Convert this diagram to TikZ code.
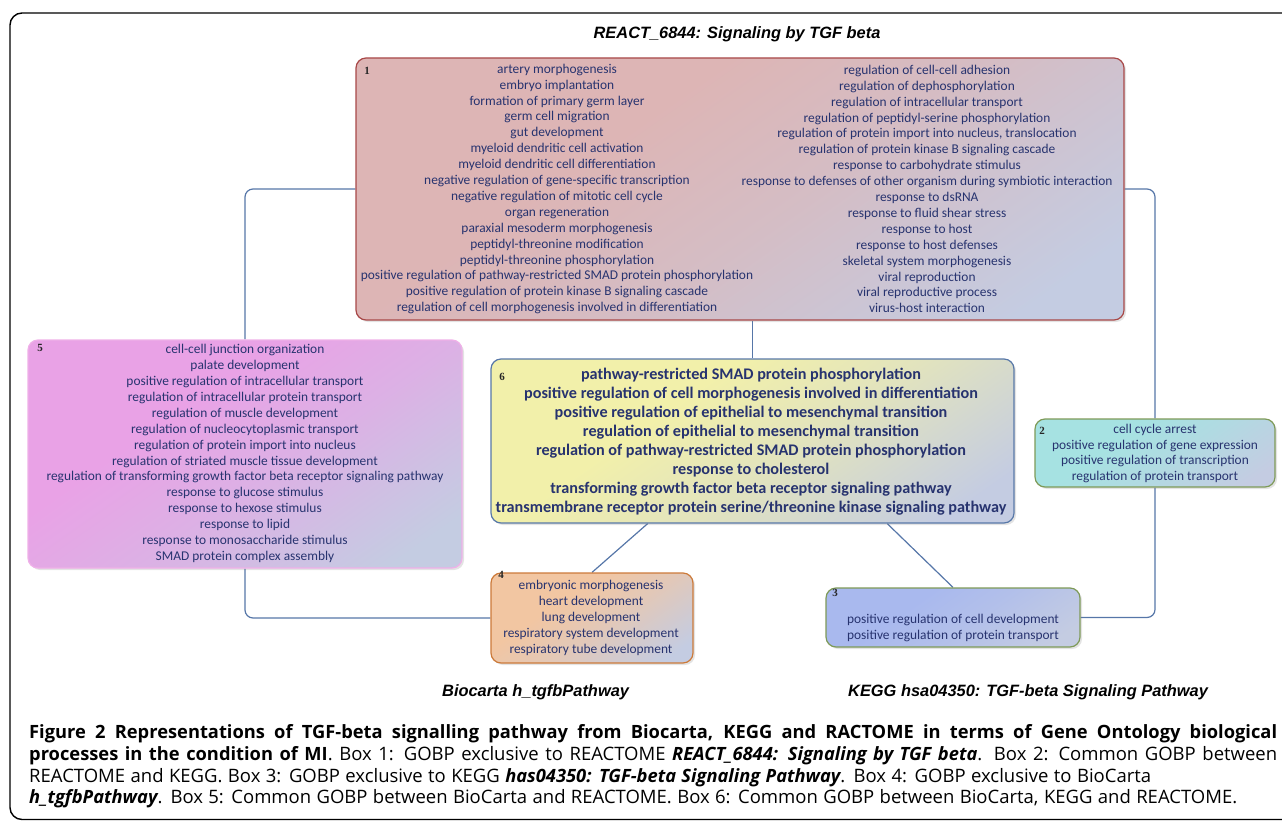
\documentclass[tikz,border=0pt]{standalone}
\usepackage{fontspec}
\setmainfont{Carlito}
\newfontfamily\arialf{Liberation Sans}
\newfontfamily\capf{Open Sans}
\newfontfamily\numf{Liberation Serif}
\usetikzlibrary{calc,shadows,backgrounds}
\definecolor{txtc}{HTML}{27336F}
\definecolor{connc}{HTML}{5676A8}
\definecolor{fadec}{HTML}{C4CCE2}
\definecolor{redf}{HTML}{DDB5B5}
\definecolor{redd}{HTML}{A84848}
\definecolor{magf}{HTML}{E9A2E6}
\definecolor{magd}{HTML}{EFB0E8}
\definecolor{yelf}{HTML}{F2F0AA}
\definecolor{yeld}{HTML}{5878A8}
\definecolor{cyaf}{HTML}{A6E2E2}
\definecolor{oliv}{HTML}{7E9A58}
\definecolor{oraf}{HTML}{F2C6A2}
\definecolor{orad}{HTML}{CC7A3A}
\definecolor{bluf}{HTML}{A9B9EE}
\colorlet{mainc}{redf}
\pgfdeclareverticalshading[mainc,fadec]{boxshade}{100bp}{color(0bp)=(fadec); color(22bp)=(fadec); color(45bp)=(fadec!35!mainc); color(62bp)=(mainc); color(100bp)=(mainc)}
\newcommand\cb[1]{{\fontsize{18.3}{22}\selectfont\bfseries #1}}
\newcommand\cbi[1]{{\fontsize{18.3}{22}\selectfont\bfseries\itshape #1}}
\tikzset{
  boxbase/.style={rectangle, rounded corners=10pt, line width=1.2pt, inner sep=0pt,
    drop shadow={shadow xshift=2pt, shadow yshift=-2pt, opacity=0.22}},
  shadebox/.style={shade, shading=boxshade, shading angle=35},
  btxt/.style={align=center, text=txtc, inner sep=0pt, font=\fontsize{13.4}{15.9}\selectfont},
  bigtxt/.style={align=center, text=txtc, inner sep=0pt, font=\bfseries\fontsize{16.2}{19}\selectfont},
  num/.style={inner sep=0pt, font=\numf\bfseries\fontsize{11}{12}\selectfont, text=black!85},
  conn/.style={draw=connc, line width=1.2pt, rounded corners=8pt},
  ttl/.style={inner sep=0pt, font=\arialf\bfseries\itshape\fontsize{16.4}{18}\selectfont},
  captxt/.style={inner sep=0pt, font=\capf\fontsize{18.5}{22}\selectfont}
}
\begin{document}
\begin{tikzpicture}[x=1pt,y=-1pt]
\useasboundingbox (0,0) rectangle (1282,821);
\begin{scope}
\clip (0,0) rectangle (1282,821);
\draw[line width=1.4pt, rounded corners=12pt] (10,13) rectangle (1330,819.5);
\end{scope}

\node[ttl, anchor=base] (title) at (737,39) {REACT\_6844: Signaling by TGF beta};

% boxes
\colorlet{mainc}{redf}
\node[boxbase, draw=redd, shadebox, minimum width=768pt, minimum height=262pt] (b1) at (740,189) {};
\colorlet{mainc}{magf}
\node[boxbase, draw=magd, shadebox, minimum width=434pt, minimum height=228pt] (b5) at (245,454) {};
\colorlet{mainc}{yelf}
\node[boxbase, draw=yeld, shadebox, minimum width=523pt, minimum height=164pt] (b6) at (752.5,441) {};
\colorlet{mainc}{cyaf}
\node[boxbase, draw=oliv, shadebox, minimum width=240pt, minimum height=68pt] (b2) at (1155,453) {};
\colorlet{mainc}{oraf}
\node[boxbase, draw=orad, shadebox, minimum width=202pt, minimum height=90pt] (b4) at (592,618) {};
\colorlet{mainc}{bluf}
\node[boxbase, draw=oliv, shadebox, minimum width=254pt, minimum height=59pt] (b3) at (953,617.5) {};

% connectors
\begin{scope}[on background layer]
\draw[conn] (b1.west) -| (b5.north);
\draw[conn] (b1.east) -| (b2.north);
\draw[conn] (b2.south) |- (b3.east);
\draw[conn] (b5.south) |- (b4.west);
\draw[conn] (b6.north) -- (b6.north |- b1.south);
\draw[conn] ($(b6.south west)!0.3!(b6.south east)$) -- (b4.north);
\draw[conn] ($(b6.south west)!0.757!(b6.south east)$) -- (b3.north);
\end{scope}

% numbers
\node[num] (n1) at (367,71) {1};
\node[num] (n5) at (40,348) {5};
\node[num] (n6) at (502,377) {6};
\node[num] (n2) at (1042,431) {2};
\node[num] (n4) at (501,575) {4};
\node[num] (n3) at (835,593) {3};

% texts
\node[btxt] (t1l) at (557,189) {artery morphogenesis\\embryo implantation\\formation of primary germ layer\\germ cell migration\\gut development\\myeloid dendritic cell activation\\myeloid dendritic cell differentiation\\negative regulation of gene-specific transcription\\negative regulation of mitotic cell cycle\\organ regeneration\\paraxial mesoderm morphogenesis\\peptidyl-threonine modification\\peptidyl-threonine phosphorylation\\positive regulation of pathway-restricted SMAD protein phosphorylation\\positive regulation of protein kinase B signaling cascade\\regulation of cell morphogenesis involved in differentiation};
\node[btxt] (t1r) at (927,189) {regulation of cell-cell adhesion\\regulation of dephosphorylation\\regulation of intracellular transport\\regulation of peptidyl-serine phosphorylation\\regulation of protein import into nucleus, translocation\\regulation of protein kinase B signaling cascade\\response to carbohydrate stimulus\\response to defenses of other organism during symbiotic interaction\\response to dsRNA\\response to fluid shear stress\\response to host\\response to host defenses\\skeletal system morphogenesis\\viral reproduction\\viral reproductive process\\virus-host interaction};
\node[btxt] (t5) at (245,453.5) {cell-cell junction organization\\palate development\\positive regulation of intracellular transport\\regulation of intracellular protein transport\\regulation of muscle development\\regulation of nucleocytoplasmic transport\\regulation of protein import into nucleus\\regulation of striated muscle tissue development\\regulation of transforming growth factor beta receptor signaling pathway\\response to glucose stimulus\\response to hexose stimulus\\response to lipid\\response to monosaccharide stimulus\\SMAD protein complex assembly};
\node[bigtxt] (t6) at (751,441.5) {pathway-restricted SMAD protein phosphorylation\\positive regulation of cell morphogenesis involved in differentiation\\positive regulation of epithelial to mesenchymal transition\\regulation of epithelial to mesenchymal transition\\regulation of pathway-restricted SMAD protein phosphorylation\\response to cholesterol\\transforming growth factor beta receptor signaling pathway\\transmembrane receptor protein serine/threonine kinase signaling pathway};
\node[btxt] (t2) at (1155,453.5) {cell cycle arrest\\positive regulation of gene expression\\positive regulation of transcription\\regulation of protein transport};
\node[btxt] (t4) at (591,618) {embryonic morphogenesis\\heart development\\lung development\\respiratory system development\\respiratory tube development};
\node[btxt] (t3) at (953,628) {positive regulation of cell development\\positive regulation of protein transport};

% bottom labels
\node[ttl, anchor=base west] (lbio) at (442,696) {Biocarta h\_tgfbPathway};
\node[ttl, anchor=base west] (lkegg) at (848,696) {KEGG hsa04350: TGF-beta Signaling Pathway};

% caption
\node[captxt, anchor=base west] (c1) at (29,738) {\makebox[1248pt][s]{\cb{Figure 2 Representations of TGF-beta signalling pathway from Biocarta, KEGG and RACTOME in terms of Gene Ontology biological}}};
\node[captxt, anchor=base west] (c2) at (29,760) {\makebox[1248pt][s]{\cb{processes in the condition of MI}. Box 1: GOBP exclusive to REACTOME \cbi{REACT\_6844: Signaling by TGF beta}. Box 2: Common GOBP between}};
\node[captxt, anchor=base west] (c3) at (29,782) {\makebox[1122pt][s]{REACTOME and KEGG. Box 3: GOBP exclusive to KEGG \cbi{has04350: TGF-beta Signaling Pathway}. Box 4: GOBP exclusive to BioCarta}};
\node[captxt, anchor=base west] (c4) at (29,803) {\makebox[1208pt][s]{\cbi{h\_tgfbPathway}. Box 5: Common GOBP between BioCarta and REACTOME. Box 6: Common GOBP between BioCarta, KEGG and REACTOME.}};
\end{tikzpicture}
\end{document}
